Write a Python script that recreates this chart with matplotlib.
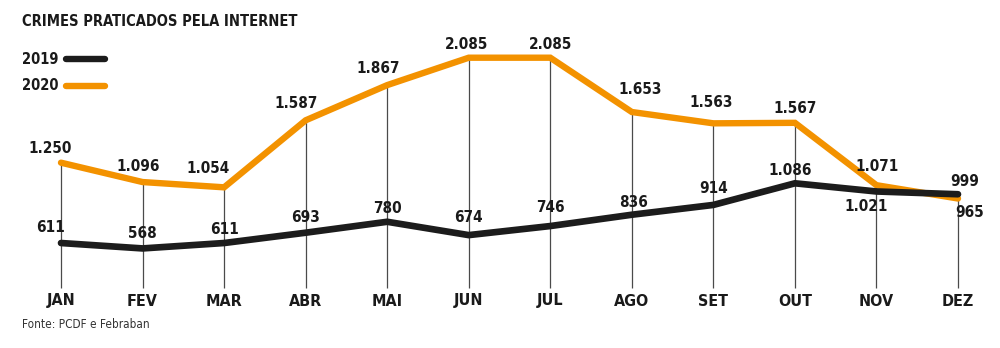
import matplotlib
matplotlib.use('Agg')
import matplotlib.pyplot as plt
import matplotlib.transforms as mtransforms

months = ['JAN', 'FEV', 'MAR', 'ABR', 'MAI', 'JUN', 'JUL', 'AGO', 'SET', 'OUT', 'NOV', 'DEZ']
crimes_2019 = [611, 568, 611, 693, 780, 674, 746, 836, 914, 1086, 1021, 999]
crimes_2020 = [1250, 1096, 1054, 1587, 1867, 2085, 2085, 1653, 1563, 1567, 1071, 965]

# label nudges in pixels (dx, dy); negative dy puts the label under the point
offs_2019 = [(-10, 16), (0, 15), (0, 14), (0, 15), (0, 13), (0, 18), (0, 19), (2, 12), (0, 16), (-5, 13),
             (-10, -15), (7, 13)]
offs_2020 = [(-11, 14), (-4, 16), (-16, 19), (-10, 17), (-9, 17), (-2, 13), (0, 13), (8, 23), (-2, 21), (0, 14),
             (1, 19), (12, -14)]

BLACK = '#1c1c1c'
ORANGE = '#f39200'
GRID = '#4a4a4a'
FONT = dict(family='DejaVu Sans', stretch='condensed', weight='bold')

fig = plt.figure(figsize=(10, 3.48), dpi=100)
ax = fig.add_axes([0, 0, 1, 1])
ax.set_xlim(-0.748, 11.515)
ax.set_ylim(-224, 2544)
ax.axis('off')

xs = list(range(len(months)))
px = 72 / fig.dpi  # points per pixel

# thin guide lines from the highest point down to the month row
tops = [max(a, b) for a, b in zip(crimes_2019, crimes_2020)]
ax.vlines(xs, 253, tops, color=GRID, lw=0.9, zorder=1)

ax.plot(xs, crimes_2020, color=ORANGE, lw=4.6, solid_joinstyle='miter', solid_capstyle='round', zorder=2)
ax.plot(xs, crimes_2019, color=BLACK, lw=4.8, solid_joinstyle='miter', solid_capstyle='round', zorder=3)


def fmt(v):
    return f'{v:,}'.replace(',', '.')


for vals, offs in ((crimes_2020, offs_2020), (crimes_2019, offs_2019)):
    for x, v, (dx, dy) in zip(xs, vals, offs):
        ax.annotate(fmt(v), (x, v), xytext=(dx * px, dy * px), textcoords='offset points',
                    ha='center', va='center', fontsize=11, color='#1a1a1a', zorder=4, **FONT)

trans = mtransforms.blended_transform_factory(ax.transData, ax.transAxes)
for x, m in zip(xs, months):
    ax.text(x, 1 - 301 / 348, m, transform=trans, ha='center', va='center',
            fontsize=11.5, color='#1a1a1a', **FONT)

# title, legend and source
fig.text(0.022, 1 - 22 / 348, 'CRIMES PRATICADOS PELA INTERNET', ha='left', va='center',
         fontsize=10.5, color='#1a1a1a', **FONT)
for y, label, color in ((59, '2019', BLACK), (86, '2020', ORANGE)):
    fig.text(0.022, 1 - y / 348, label, ha='left', va='center', fontsize=10.5, color='#1a1a1a', **FONT)
    fig.add_artist(plt.Line2D([0.066, 0.105], [1 - y / 348] * 2, color=color, lw=4.6,
                              solid_capstyle='round', transform=fig.transFigure))
fig.text(0.022, 1 - 325 / 348, 'Fonte: PCDF e Febraban', ha='left', va='center',
         fontsize=8.5, color='#333333', family='DejaVu Sans', stretch='condensed')

fig.savefig('out.png', dpi=100, facecolor='white')
